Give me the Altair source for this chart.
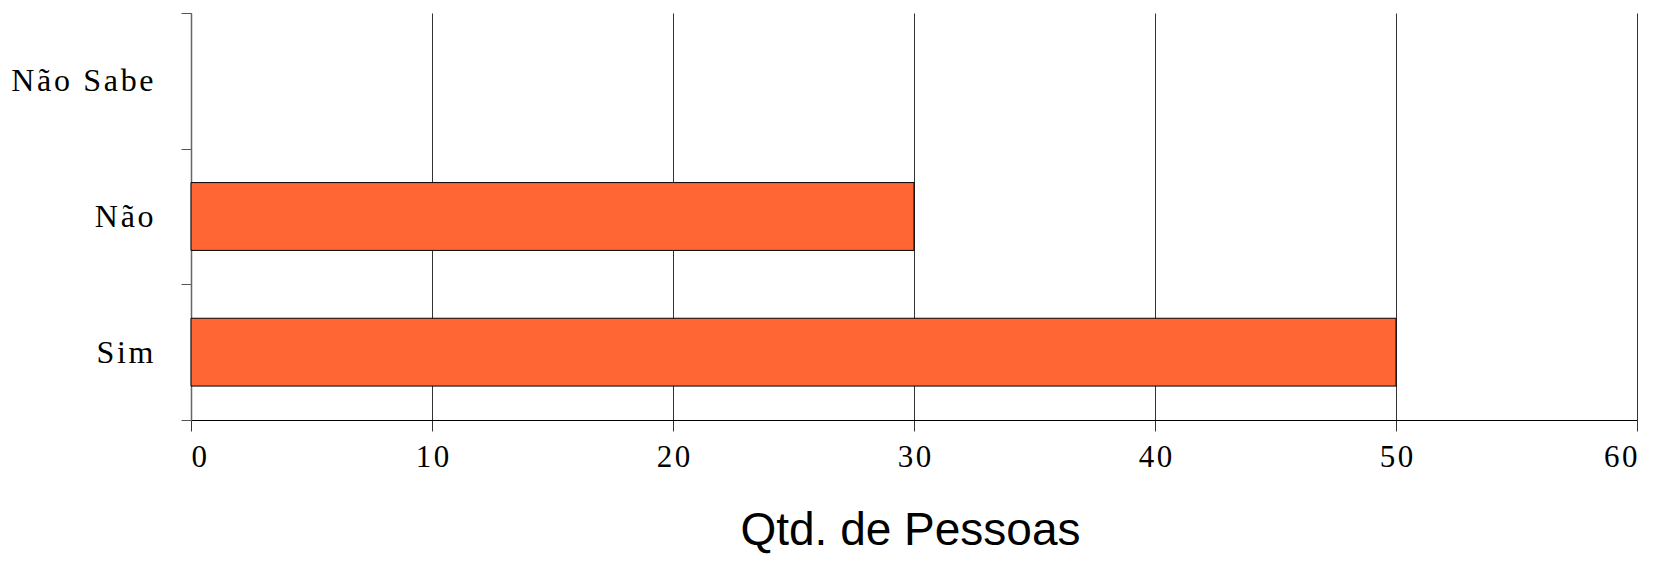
import altair as alt
import pandas as pd

categories = ["Não Sabe", "Não", "Sim"]
values = [0, 30, 50]
x_ticks = [0, 10, 20, 30, 40, 50, 60]

df = pd.DataFrame({"resposta": categories, "qtd": values})

spaced = "join(split(datum.label, ''), '\u200a')"

bars = alt.Chart(df).transform_filter("datum.qtd > 0").mark_bar(
    color="#FF6633", stroke="#000000", strokeWidth=1,
    height=alt.RelativeBandSize(0.5)
).encode(
    x=alt.X("qtd:Q",
            scale=alt.Scale(domain=[0, 60], nice=False),
            axis=alt.Axis(values=x_ticks, title="Qtd. de Pessoas",
                          labelExpr=spaced,
                          labelFont="Liberation Serif", labelFontSize=31,
                          labelColor="#000000", labelPadding=11,
                          tickSize=11, tickColor="#333333",
                          domainColor="#000000", domainWidth=1,
                          grid=True, gridColor="#333333", gridWidth=1,
                          titleFont="Liberation Sans", titleFontSize=46,
                          titleFontWeight="normal", titleColor="#000000",
                          titleBaseline="alphabetic", titleY=124, titleX=719)),
    y=alt.Y("resposta:N",
            scale=alt.Scale(domain=categories, paddingInner=0, paddingOuter=0),
            axis=alt.Axis(title=None, tickBand="extent", labelExpr=spaced,
                          labelFont="Liberation Serif", labelFontSize=32,
                          labelColor="#000000", labelPadding=28,
                          tickSize=10, tickColor="#555555",
                          domainColor="#666666", domainWidth=1.5,
                          grid=False)),
).properties(
    width=1446, height=407,
    autosize=alt.AutoSizeParams(type="none"),
    padding={"left": 183, "top": 5, "right": 18, "bottom": 135},
).configure_view(stroke=None)

bars.save("out.html", embed_options={"renderer": "svg", "actions": False})
